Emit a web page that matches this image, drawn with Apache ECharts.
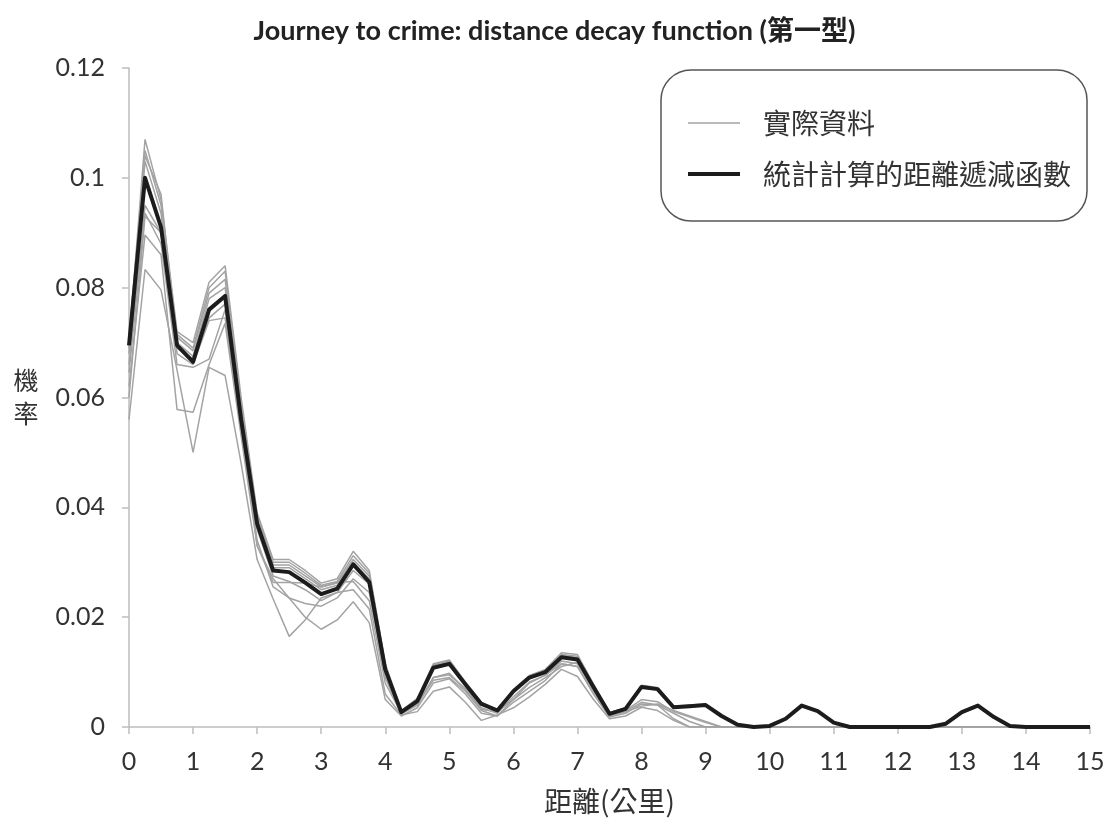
<!DOCTYPE html>
<html>
<head>
<meta charset="utf-8">
<script src="https://cdn.jsdelivr.net/npm/echarts@6/dist/echarts.min.js"></script>
<style>html,body{margin:0;padding:0;background:#fff;}#c{width:1109px;height:820px;}</style>
</head>
<body>
<div id="c"></div>
<script>
// distance (km)
var distances = [0,0.25,0.5,0.75,1,1.25,1.5,1.75,2,2.25,2.5,2.75,3,3.25,3.5,3.75,4,4.25,4.5,4.75,5,5.25,5.5,5.75,6,6.25,6.5,6.75,7,7.25,7.5,7.75,8,8.25,8.5,8.75,9,9.25,9.5,9.75,10,10.25,10.5,10.75,11,11.25,11.5,11.75,12,12.25,12.5,12.75,13,13.25,13.5,13.75,14,14.25,14.5,14.75,15];

// fitted distance decay function
var fitted = [0.0695,0.1000,0.0910,0.0695,0.0665,0.0760,0.0785,0.0560,0.0370,0.0285,0.0282,0.0263,0.0242,0.0252,0.0296,0.0264,0.0105,0.0027,0.0047,0.0108,0.0115,0.0078,0.0042,0.0030,0.0065,0.0090,0.0100,0.0127,0.0123,0.0073,0.0024,0.0033,0.0073,0.0069,0.0036,0.0038,0.0040,0.0020,0.0004,0,0.0002,0.0015,0.0039,0.0029,0.0008,0,0,0,0,0,0,0.0006,0.0027,0.0039,0.0018,0.0002,0,0,0,0,0];

// observed data sets
var obs1 = [0.0700,0.1070,0.0960,0.0720,0.0700,0.0810,0.0840,0.0600,0.0390,0.0305,0.0305,0.0285,0.0262,0.0270,0.0320,0.0285,0.0115,0.0030,0.0052,0.0115,0.0122,0.0082,0.0045,0.0032,0.0068,0.0094,0.0105,0.0135,0.0132,0.0078,0.0026,0.0035,0.0076,0.0072,0.0038,0.0040,0.0042,0.0021,0.0004,0,0.0002,0.0016,0.0041,0.0030,0.0008,0,0,0,0,0,0,0.0006,0.0028,0.0040,0.0019,0.0002,0,0,0,0,0];
var obs2 = [0.0690,0.1050,0.0950,0.0715,0.0690,0.0800,0.0830,0.0590,0.0385,0.0300,0.0300,0.0280,0.0258,0.0265,0.0312,0.0280,0.0112,0.0028,0.0050,0.0113,0.0120,0.0080,0.0044,0.0031,0.0067,0.0092,0.0103,0.0132,0.0129,0.0076,0.0025,0.0034,0.0075,0.0071,0.0037,0.0039,0.0041,0.0021,0.0004,0,0.0002,0.0015,0.0040,0.0030,0.0008,0,0,0,0,0,0,0.0006,0.0027,0.0039,0.0018,0.0002,0,0,0,0,0];
var obs3 = [0.0680,0.1030,0.0935,0.0710,0.0685,0.0790,0.0815,0.0580,0.0380,0.0295,0.0295,0.0275,0.0255,0.0262,0.0305,0.0275,0.0110,0.0028,0.0049,0.0111,0.0118,0.0079,0.0043,0.0031,0.0066,0.0091,0.0102,0.0130,0.0126,0.0075,0.0025,0.0034,0.0074,0.0070,0.0037,0.0039,0.0040,0.0020,0.0004,0,0.0002,0.0015,0.0039,0.0029,0.0008,0,0,0,0,0,0,0.0006,0.0027,0.0039,0.0018,0.0002,0,0,0,0,0];
var obs4 = [0.0710,0.1040,0.0970,0.0700,0.0675,0.0780,0.0800,0.0575,0.0375,0.0290,0.0290,0.0270,0.0250,0.0258,0.0300,0.0270,0.0108,0.0027,0.0048,0.0110,0.0117,0.0079,0.0043,0.0030,0.0066,0.0091,0.0101,0.0129,0.0125,0.0074,0.0024,0.0033,0.0074,0.0070,0.0036,0.0038,0.0040,0.0020,0.0004,0,0.0002,0.0015,0.0039,0.0029,0.0008,0,0,0,0,0,0,0.0006,0.0027,0.0039,0.0018,0.0002,0,0,0,0,0];
var obs5 = [0.0660,0.0950,0.0900,0.0690,0.0670,0.0745,0.0770,0.0550,0.0360,0.0275,0.0265,0.0250,0.0230,0.0245,0.0285,0.0260,0.0100,0.0025,0.0042,0.0085,0.0090,0.0065,0.0030,0.0020,0.0050,0.0080,0.0095,0.0115,0.0110,0.0065,0.0020,0.0028,0.0045,0.0040,0.0025,0.0010,0,0,0,0,0,0,0,0,0,0,0,0,0,0,0,0,0,0,0,0,0,0,0,0,0];
var obs6 = [0.0560,0.0833,0.0796,0.0650,0.0500,0.0655,0.0640,0.0480,0.0305,0.0233,0.0165,0.0195,0.0235,0.0245,0.0250,0.0215,0.0060,0.0022,0.0028,0.0065,0.0073,0.0045,0.0012,0.0022,0.0035,0.0055,0.0078,0.0105,0.0092,0.0050,0.0015,0.0020,0.0036,0.0030,0.0012,0,0,0,0,0,0,0,0,0,0,0,0,0,0,0,0,0,0,0,0,0,0,0,0,0,0];
var obs7 = [0.0620,0.0896,0.0860,0.0578,0.0573,0.0660,0.0735,0.0530,0.0330,0.0270,0.0235,0.0200,0.0178,0.0195,0.0228,0.0190,0.0050,0.0020,0.0035,0.0080,0.0088,0.0060,0.0025,0.0020,0.0045,0.0065,0.0085,0.0115,0.0110,0.0060,0.0018,0.0025,0.0042,0.0040,0.0015,0,0,0,0,0,0,0,0,0,0,0,0,0,0,0,0,0,0,0,0,0,0,0,0,0,0];
var obs8 = [0.0645,0.0936,0.0880,0.0660,0.0655,0.0670,0.0760,0.0560,0.0330,0.0263,0.0263,0.0262,0.0255,0.0263,0.0265,0.0230,0.0080,0.0025,0.0040,0.0090,0.0098,0.0068,0.0032,0.0028,0.0050,0.0072,0.0090,0.0110,0.0118,0.0070,0.0020,0.0028,0.0038,0.0042,0.0030,0.0020,0.0010,0,0,0,0,0,0,0,0,0,0,0,0,0,0,0,0,0,0,0,0,0,0,0,0];
var obs9 = [0.0600,0.0930,0.0900,0.0680,0.0660,0.0740,0.0745,0.0540,0.0340,0.0255,0.0235,0.0225,0.0220,0.0235,0.0270,0.0245,0.0090,0.0024,0.0040,0.0090,0.0095,0.0070,0.0035,0.0025,0.0055,0.0082,0.0094,0.0120,0.0115,0.0068,0.0022,0.0030,0.0050,0.0046,0.0028,0.0018,0.0008,0,0,0,0,0,0,0,0,0,0,0,0,0,0,0,0,0,0,0,0,0,0,0,0];

var observedSets = [obs1, obs2, obs3, obs4, obs5, obs6, obs7, obs8, obs9];
var xTicks = [0,1,2,3,4,5,6,7,8,9,10,11,12,13,14,15];

var observedName = '實際資料';
var fittedName = '統計計算的距離遞減函數';
var titleText = 'Journey to crime: distance decay function (第一型)';

function pairs(vals){ return distances.map(function(d,i){ return [d, vals[i]]; }); }

var series = observedSets.map(function(s){
  return {
    name: observedName, type: 'line', data: pairs(s), symbol: 'none', showSymbol: false,
    lineStyle: { color: '#a3a3a3', width: 1.5 }, itemStyle: { color: '#a3a3a3' },
    z: 2, silent: true, animation: false
  };
});
series.push({
  name: fittedName, type: 'line', data: pairs(fitted), symbol: 'none', showSymbol: false,
  lineStyle: { color: '#1c1c1c', width: 4, join: 'round' }, itemStyle: { color: '#1c1c1c' },
  z: 5, animation: false
});

// thin / thick line-shaped legend keys (bounding box 52x14)
var thinKey = 'path://M0,0 M0,6.25 L52,6.25 L52,7.75 L0,7.75 Z M52,14';
var thickKey = 'path://M0,0 M0,5 L52,5 L52,9 L0,9 Z M52,14';

var chart = echarts.init(document.getElementById('c'), null, { renderer: 'canvas' });
chart.setOption({
  backgroundColor: '#ffffff',
  animation: false,
  title: {
    text: titleText, left: 'center', top: 13,
    textStyle: { fontFamily: 'Lato, "Noto Sans CJK TC", sans-serif', fontWeight: 'bold', fontSize: 27, color: '#222' }
  },
  legend: {
    orient: 'vertical', left: 661, top: 70,
    data: [
      { name: observedName, icon: thinKey, itemStyle: { color: '#a3a3a3', borderWidth: 0 } },
      { name: fittedName, icon: thickKey, itemStyle: { color: '#1c1c1c', borderWidth: 0 } }
    ],
    itemWidth: 52, itemHeight: 14, itemGap: 21,
    padding: [38, 16, 32, 27],
    borderColor: '#555', borderWidth: 1.5, borderRadius: 30,
    textStyle: { fontFamily: '"Noto Sans CJK TC", sans-serif', fontSize: 28, color: '#333', lineHeight: 30, padding: [0, 0, 0, 18] }
  },
  grid: { left: 129, right: 19, top: 68, bottom: 92 },
  xAxis: {
    type: 'value', min: 0, max: 15, interval: 1,
    name: '距離(公里)', nameLocation: 'middle', nameGap: 60,
    nameTextStyle: { fontFamily: '"Noto Sans CJK TC", sans-serif', fontSize: 28, color: '#333' },
    axisLine: { lineStyle: { color: '#bdbdbd', width: 1.5 } },
    axisTick: { show: true, inside: false, length: 7, lineStyle: { color: '#bdbdbd', width: 1.5 } },
    axisLabel: { fontFamily: 'Lato, sans-serif', fontSize: 25, color: '#333', margin: 22,
      formatter: function(v){ return xTicks.indexOf(v) >= 0 ? String(v) : ''; } },
    splitLine: { show: false }
  },
  yAxis: {
    type: 'value', min: 0, max: 0.12, interval: 0.02,
    name: '機\n率', nameLocation: 'middle', nameGap: 103, nameRotate: 0,
    nameTextStyle: { fontFamily: '"Noto Sans CJK TC", sans-serif', fontSize: 25, color: '#333', lineHeight: 33, align: 'center', verticalAlign: 'middle' },
    axisLine: { show: true, lineStyle: { color: '#bdbdbd', width: 1.5 } },
    axisTick: { show: true, inside: false, length: 7, lineStyle: { color: '#bdbdbd', width: 1.5 } },
    axisLabel: { fontFamily: 'Lato, sans-serif', fontSize: 25, color: '#333', margin: 24 },
    splitLine: { show: false }
  },
  series: series
});
</script>
</body>
</html>
